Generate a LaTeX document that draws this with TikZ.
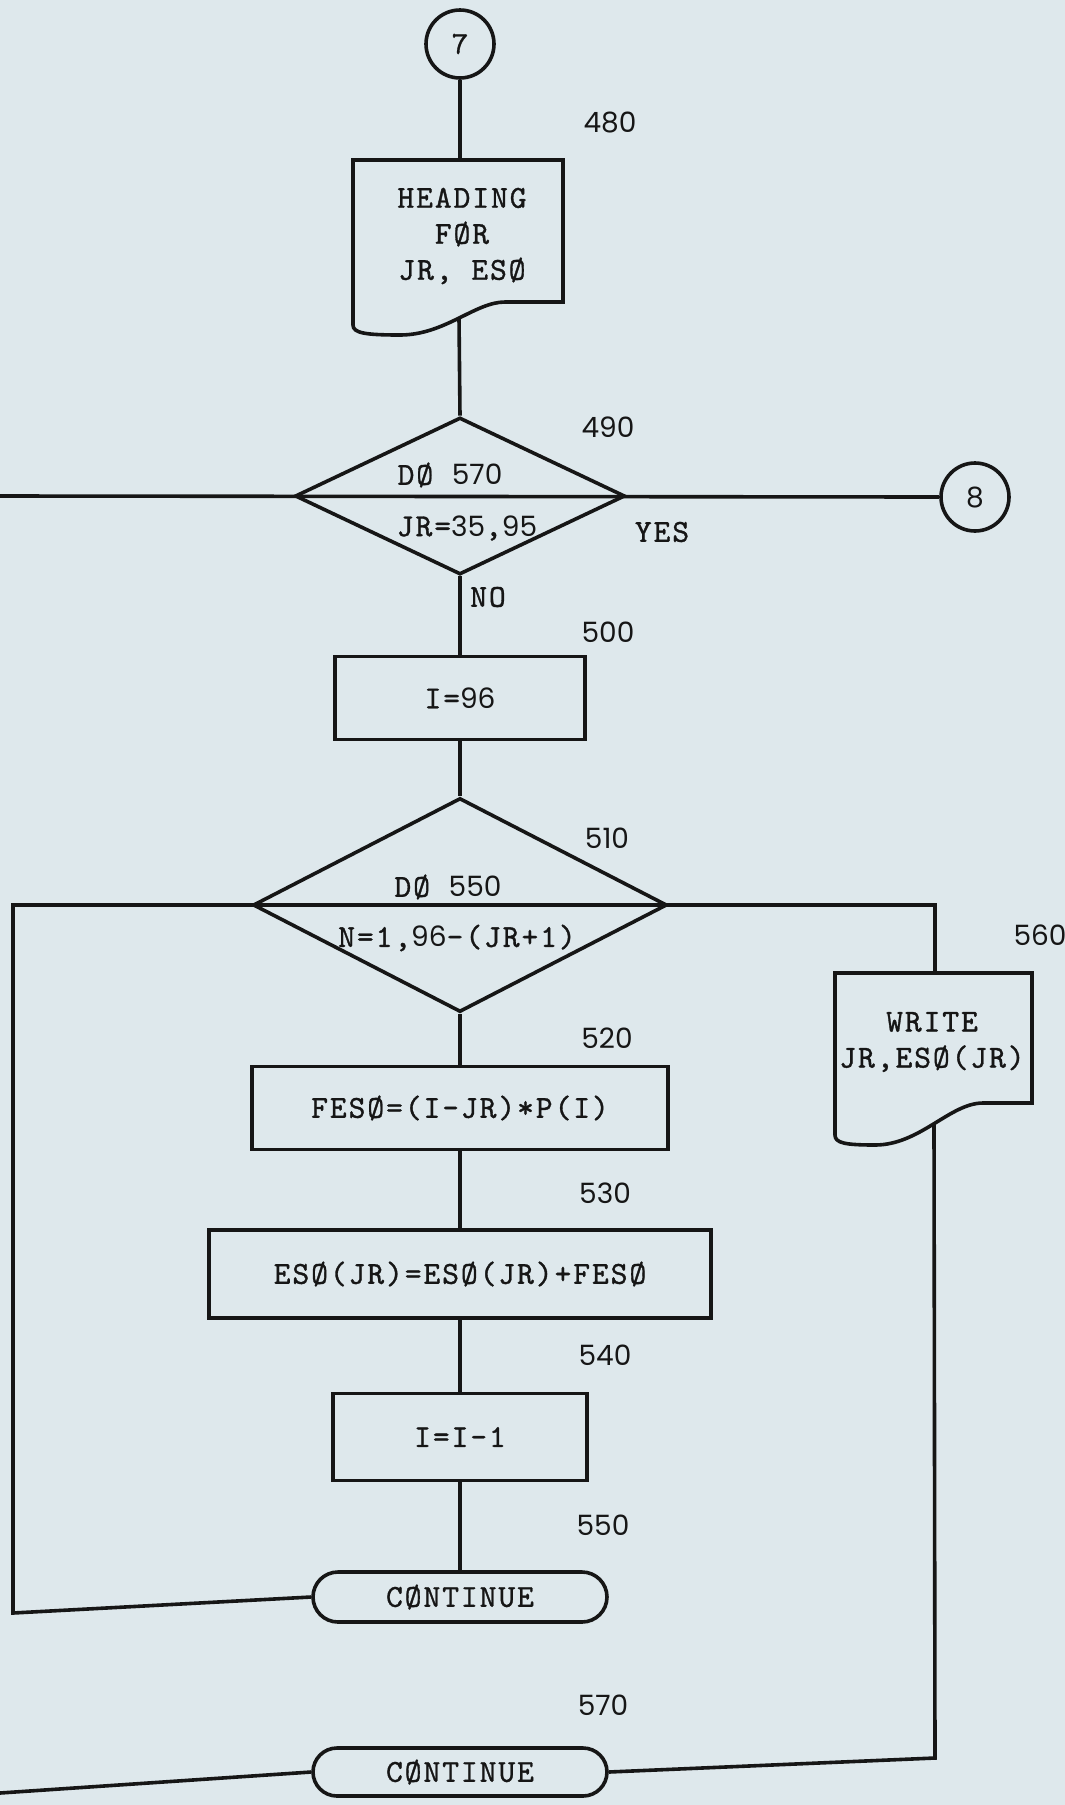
\documentclass[tikz,border=0pt]{standalone}
\usepackage{fontspec}
\newfontfamily\numfam{Poppins}
\newfontfamily\twfam{lmmono10-regular.otf}[LetterSpace=6,FakeBold=1]
\usetikzlibrary{shapes.geometric}
\definecolor{paper}{RGB}{222,232,236}
\definecolor{ink}{RGB}{22,22,22}
\newcommand\typefont{\twfam\fontsize{32}{36}\selectfont}
\newcommand\labfont{\numfam\fontsize{28}{32}\selectfont}
\begin{document}
\begin{tikzpicture}[x=1pt,y=-1pt,line width=3.6pt,draw=ink,text=ink,
  procbox/.style={draw,rectangle,inner sep=0pt,font=\typefont},
  dia/.style={draw,diamond,inner sep=0pt},
  conn/.style={draw,circle,minimum size=68pt,inner sep=0pt},
  term/.style={draw,rectangle,inner sep=0pt,font=\typefont},
  lab/.style={font=\labfont},
  txt/.style={font=\typefont,inner sep=0pt,align=center}]
\fill[paper] (0,0) rectangle (1065,1805);
\useasboundingbox (0,0) rectangle (1065,1805);

% connectors circles
\node[conn,font=\typefont] (c7) at (460,44) {7};
\node[conn,font=\labfont] (c8) at (975,497) {8};

% document 480
\draw (353,160) -- (563,160) -- (563,302) -- (505,302)
  .. controls (475,302) and (445,335) .. (400,335)
  .. controls (365,335) and (353,333) .. (353,325) -- cycle;
\coordinate (d480t) at (460,160);
\coordinate (d480b) at (459,318);
\node[txt] (t480) at (462,236) {HEADING\\FØR\\JR, ESØ};

% decisions
\node[dia,minimum width=330pt,minimum height=157pt] (d490) at (460,496) {};
\node[txt] (t490a) at (450,475) {DØ {\labfont 570}};
\node[txt] (t490b) at (467,528) {JR={\labfont 35},{\labfont 95}};
\node[txt] (yes) at (662,532) {YES};
\node[txt] (no) at (488,597) {NO};

\node[procbox,minimum width=250pt,minimum height=83pt] (b500) at (460,698) {I={\labfont 96}};

\node[dia,minimum width=414pt,minimum height=214pt] (d510) at (460,905) {};
\node[txt] (t510a) at (448,887) {DØ {\labfont 550}};
\node[txt] (t510b) at (457,938) {N=1,{\labfont 96}-(JR+1)};

\node[procbox,minimum width=416pt,minimum height=83pt] (b520) at (460,1108) {FESØ=(I-JR)*P(I)};
\node[procbox,minimum width=502pt,minimum height=88pt] (b530) at (460,1274) {ESØ(JR)=ESØ(JR)+FESØ};
\node[procbox,minimum width=254pt,minimum height=87pt] (b540) at (460,1437) {I=I-1};

\node[term,minimum width=294pt,minimum height=50pt,rounded corners=25pt] (k550) at (460,1597) {CØNTINUE};
\node[term,minimum width=294pt,minimum height=48pt,rounded corners=24pt] (k570) at (460,1772) {CØNTINUE};

% document 560
\draw (835,973) -- (1032,973) -- (1032,1103) -- (983,1103)
  .. controls (950,1103) and (920,1145) .. (875,1145)
  .. controls (845,1145) and (835,1143) .. (835,1135) -- cycle;
\coordinate (d560t) at (935,973);
\coordinate (d560b) at (934,1124);
\node[txt] (t560) at (932,1042) {WRITE\\JR,ESØ(JR)};

% line numbers
\node[lab] (n480) at (610,122) {480};
\node[lab] (n490) at (608,427) {490};
\node[lab] (n500) at (608,632) {500};
\node[lab] (n510) at (607,838) {510};
\node[lab] (n520) at (607,1038) {520};
\node[lab] (n530) at (605,1193) {530};
\node[lab] (n540) at (605,1355) {540};
\node[lab] (n550) at (603,1525) {550};
\node[lab] (n560) at (1040,935) {560};
\node[lab] (n570) at (603,1705) {570};

% flow lines
\coordinate (lft490) at (0,496);
\coordinate (lpA) at (13,1613);
\coordinate (lpB) at (13,905);
\coordinate (rpA) at (935,905);
\coordinate (rpB) at (935,1758);
\coordinate (btm) at (0,1793);

\draw (c7.south) -- (d480t);
\draw (d480b) -- (d490.north);
\draw (lft490) -- (c8.west);
\draw (d490.south) -- (b500.north);
\draw (b500.south) -- (d510.north);
\draw (d510.south) -- (b520.north);
\draw (b520.south) -- (b530.north);
\draw (b530.south) -- (b540.north);
\draw (b540.south) -- (k550.north);
\draw (k550.west) -- (lpA) -- (lpB) -- (rpA) -- (d560t);
\draw (d560b) -- (rpB) -- (k570.east);
\draw (k570.west) -- (btm);
\end{tikzpicture}
\end{document}
